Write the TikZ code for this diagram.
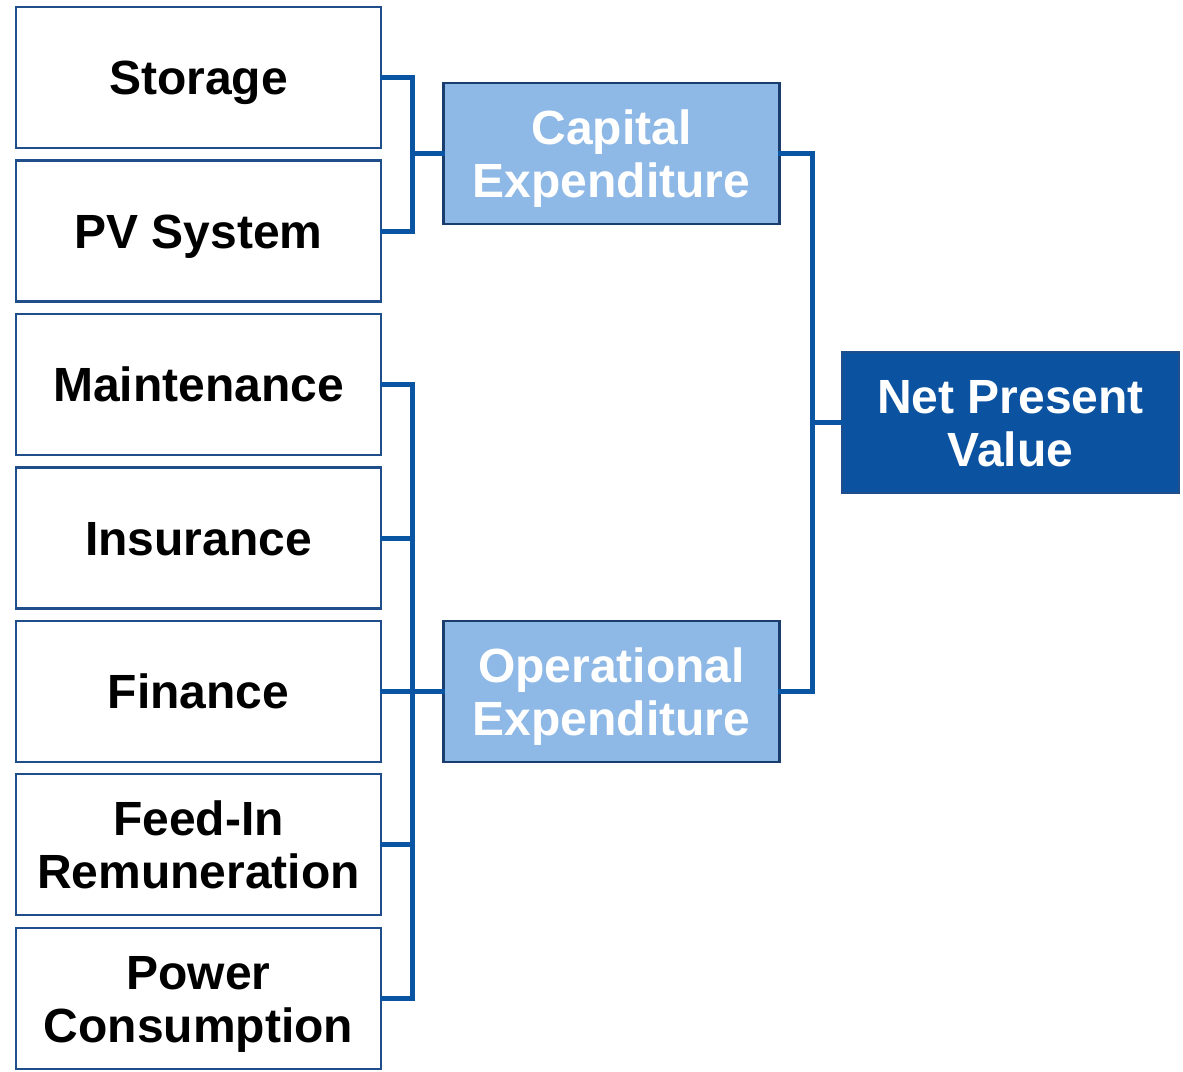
\documentclass[tikz,border=0pt]{standalone}
\usepackage{fontspec}
\setmainfont{Liberation Sans}
\definecolor{edge}{HTML}{1F4E8A}
\definecolor{wire}{HTML}{0A55A3}
\definecolor{lightfill}{HTML}{8EB8E5}
\definecolor{darkfill}{HTML}{0B52A0}
\begin{document}
\begin{tikzpicture}[x=1pt,y=-1pt,
  labelfont/.style={inner sep=0pt,align=center,font=\bfseries\fontsize{48}{53}\selectfont},
  oneline/.style={text height=34pt,text depth=0pt},
  twoline/.style={text height=87pt,text depth=0pt},
  item/.style={labelfont,draw=edge,line width=2.2pt,fill=white,minimum width=365pt,minimum height=141pt,text=black},
  group/.style={labelfont,draw=edge!80!black,line width=2.2pt,fill=lightfill,minimum width=336pt,minimum height=141pt,text=white},
  total/.style={labelfont,draw=edge,line width=2.2pt,fill=darkfill,minimum width=337pt,minimum height=141pt,text=white},
  conn/.style={draw=wire,line width=5pt,line cap=rect}]
\useasboundingbox (0,0) rectangle (1183,1071);
% cost items
\node[item,oneline] (st) at (198.5,77.5) {Storage};
\node[item,oneline] (pv) at (198.5,231) {PV System};
\node[item,oneline] (ma) at (198.5,384.5) {Maintenance};
\node[item,oneline] (in) at (198.5,538) {Insurance};
\node[item,oneline] (fi) at (198.5,691.5) {Finance};
\node[item,twoline] (fe) at (198.5,844.5) {Feed-In\\Remuneration};
\node[item,twoline] (po) at (198.5,998.5) {Power\\Consumption};
% groups
\node[group,twoline] (cap) at (611.5,153.5) {Capital\\Expenditure};
\node[group,twoline] (op) at (611.5,691.5) {Operational\\Expenditure};
\node[total,twoline] (npv) at (1010.5,422.5) {Net Present\\Value};
% bracket columns
\coordinate (bl) at (412,0);
\coordinate (br) at (812,0);
% capital bracket
\draw[conn] (st.east) -- (st.east -| bl) -- (pv.east -| bl) -- (pv.east);
\draw[conn] (cap.west -| bl) -- (cap.west);
% operational bracket
\draw[conn] (ma.east) -- (ma.east -| bl) -- (po.east -| bl) -- (po.east);
\draw[conn] (in.east) -- (in.east -| bl);
\draw[conn] (fi.east) -- (op.west);
\draw[conn] (fe.east) -- (fe.east -| bl);
% total bracket
\draw[conn] (cap.east) -- (cap.east -| br) -- (op.east -| br) -- (op.east);
\draw[conn] (npv.west -| br) -- (npv.west);
\end{tikzpicture}
\end{document}
